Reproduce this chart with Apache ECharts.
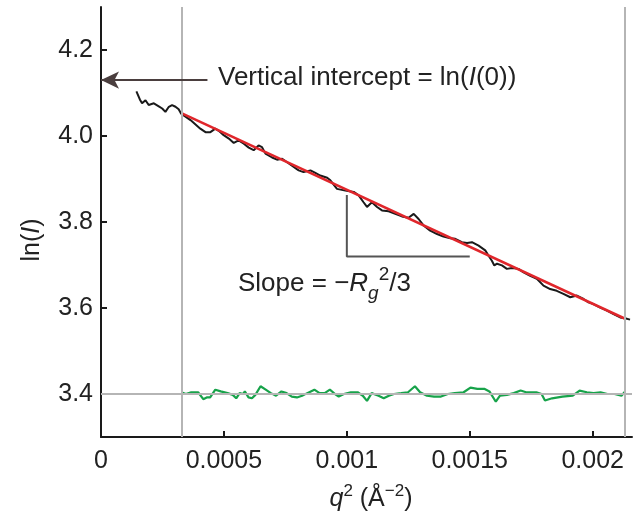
<!DOCTYPE html>
<html>
<head>
<meta charset="utf-8">
<script src="https://cdn.jsdelivr.net/npm/echarts@6/dist/echarts.min.js"></script>
<style>html,body{margin:0;padding:0;background:#fff}#c{width:633px;height:520px}</style>
</head>
<body>
<div id="c"></div>
<script>
// Guinier data: q^2 (Å^-2) vs ln(I)
const q2Data = [0.000144,0.000158,0.000167,0.000181,0.000194,0.000215,0.000235,0.000249,0.000262,0.000276,0.000289,0.000303,0.000316,0.000326,
0.000364,0.000404,0.000425,0.000445,0.000465,0.000479,0.000499,0.00052,0.00054,0.00056,0.000581,0.000601,0.000621,0.000641,0.000655,0.000669,0.000696,0.000716,0.000737,0.000757,0.000784,0.000804,0.000824,0.000852,0.000872,0.000892,0.00092,
0.000933,0.00096,0.000994,0.001028,0.001048,0.001068,0.001082,0.001102,0.001123,0.001143,0.00117,0.001197,0.001224,0.001251,0.001272,0.001292,0.001312,0.001339,0.001367,0.001393,0.001421,0.001441,0.001468,0.001489,0.001509,0.001536,0.001563,0.001576,0.00159,0.0016,0.001611,0.001631,0.001651,0.001672,0.001698,0.001719,0.001746,0.001773,0.0018,0.001827,0.001854,0.001881,0.001909,0.001936,0.001963,0.001983,0.002003,0.002031,0.002058,0.002085,0.002112,0.002132,0.002152];
const lnIData = [4.104,4.085,4.076,4.083,4.072,4.076,4.069,4.064,4.056,4.068,4.072,4.068,4.062,4.052,
4.037,4.017,4.009,4.009,4.017,4.012,4.002,3.994,3.984,3.990,3.982,3.973,3.967,3.978,3.974,3.959,3.950,3.945,3.947,3.939,3.928,3.920,3.916,3.920,3.914,3.908,3.903,
3.897,3.877,3.873,3.870,3.862,3.846,3.835,3.846,3.835,3.827,3.825,3.819,3.813,3.810,3.819,3.807,3.792,3.780,3.772,3.766,3.762,3.761,3.753,3.751,3.753,3.745,3.734,3.722,3.710,3.699,3.703,3.699,3.691,3.693,3.691,3.683,3.675,3.668,3.652,3.644,3.640,3.633,3.625,3.629,3.621,3.613,3.609,3.601,3.594,3.586,3.578,3.576,3.573];

// Linear fit endpoints
const fitQ2 = [0.000327, 0.002132];
const fitLnI = [4.053, 3.575];

// Residuals (offset around 3.4)
const resQ2 = [0.000327,0.000345,0.000367,0.000395,0.000416,0.00043,0.000444,0.000465,0.000487,0.000515,
0.000536,0.00055,0.000564,0.000578,0.000585,0.0006,0.000614,0.000628,0.000649,0.00067,
0.000691,0.000712,0.000734,0.000755,0.000776,0.000797,0.000818,0.000839,0.000868,0.000889,
0.00091,0.000931,0.000952,0.000967,0.000988,0.001016,0.001044,0.001065,0.001082,0.001101,
0.001129,0.00115,0.001171,0.001192,0.001221,0.001249,0.001277,0.001298,0.001326,0.001355,
0.001383,0.001411,0.001439,0.001475,0.001503,0.001531,0.001559,0.00158,0.001606,0.001623,
0.001651,0.001679,0.001707,0.001729,0.001771,0.001792,0.001806,0.001835,0.001877,0.001919,
0.001947,0.001976,0.002004,0.002032,0.00206,0.002089,0.002117,0.002132];
const resVal = [3.404,3.400,3.404,3.404,3.388,3.392,3.392,3.410,3.406,3.402,
3.398,3.390,3.402,3.400,3.406,3.392,3.390,3.398,3.418,3.410,
3.402,3.396,3.406,3.402,3.394,3.392,3.396,3.402,3.410,3.402,
3.402,3.410,3.400,3.394,3.400,3.404,3.404,3.396,3.384,3.402,
3.396,3.390,3.396,3.400,3.402,3.404,3.418,3.404,3.396,3.394,
3.394,3.400,3.402,3.404,3.415,3.412,3.412,3.406,3.382,3.396,
3.398,3.402,3.408,3.404,3.404,3.400,3.385,3.390,3.394,3.396,
3.408,3.404,3.402,3.404,3.400,3.400,3.396,3.406];

// Reference lines / annotations
const fitRangeQ2 = [0.000327, 0.002132];
const residualBase = 3.4;
const interceptLnI = 4.13;
const arrowTailQ2 = 0.000433;
const bracketQ2 = [0.001, 0.001, 0.0015];
const bracketLnI = [3.863, 3.72, 3.72];

// Axis range and ticks
const xRange = [0, 0.00216];
const yRange = [3.3, 4.3];
const xTicks = [0, 0.0005, 0.001, 0.0015, 0.002];
const xTickLabels = ['0', '0.0005', '0.001', '0.0015', '0.002'];
const yTicks = [3.4, 3.6, 3.8, 4.0, 4.2];
const yTickLabels = ['3.4', '3.6', '3.8', '4.0', '4.2'];

const FONT = "'Liberation Sans', Arial, Helvetica, sans-serif";
const zip = (a, b) => a.map((v, i) => [v, b[i]]);

const chart = echarts.init(document.getElementById('c'), null, {renderer: 'canvas'});
chart.setOption({
  animation: false,
  backgroundColor: '#fff',
  grid: {left: 101, top: 7, width: 531, height: 430},
  xAxis: {
    type: 'value', min: xRange[0], max: xRange[1],
    axisLine: {show: true, onZero: false, lineStyle: {color: '#1a1a1a', width: 2}},
    axisTick: {show: true, inside: false, length: -6, lineStyle: {color: '#1a1a1a', width: 2}, customValues: xTicks.slice(1)},
    axisLabel: {show: true, margin: 12, fontSize: 25, fontFamily: FONT, color: '#222',
      customValues: xTicks, formatter: v => xTickLabels[xTicks.findIndex(t => Math.abs(t - v) < 1e-9)] ?? ''},
    splitLine: {show: false}
  },
  yAxis: {
    type: 'value', min: yRange[0], max: yRange[1],
    axisLine: {show: true, onZero: false, lineStyle: {color: '#1a1a1a', width: 2}},
    axisTick: {show: true, inside: false, length: -6, lineStyle: {color: '#1a1a1a', width: 2}, customValues: yTicks},
    axisLabel: {show: true, margin: 8, fontSize: 25, fontFamily: FONT, color: '#222',
      customValues: yTicks, formatter: v => yTickLabels[yTicks.findIndex(t => Math.abs(t - v) < 1e-9)] ?? ''},
    splitLine: {show: false}
  },
  series: [
    {
      type: 'line', data: [], silent: true,
      markLine: {
        silent: true, symbol: 'none', label: {show: false},
        lineStyle: {color: '#b5b5b5', width: 2, type: 'solid'},
        data: [
          [{coord: [fitRangeQ2[0], yRange[0]]}, {coord: [fitRangeQ2[0], yRange[1]]}],
          [{coord: [fitRangeQ2[1], yRange[0]]}, {coord: [fitRangeQ2[1], yRange[1]]}],
          [{coord: [xRange[0], residualBase]}, {coord: [xRange[1], residualBase]}]
        ]
      },
      z: 1
    },
    {
      type: 'line', data: zip(q2Data, lnIData), showSymbol: false, symbol: 'none',
      lineStyle: {color: '#1a1a1a', width: 2}, z: 3
    },
    {
      type: 'line', data: zip(fitQ2, fitLnI), showSymbol: false, symbol: 'none',
      lineStyle: {color: '#e0262b', width: 2.5}, z: 4
    },
    {
      type: 'line', data: zip(resQ2, resVal), showSymbol: false, symbol: 'none',
      lineStyle: {color: '#17a34a', width: 2.2}, z: 3
    },
    {
      type: 'line', data: zip(bracketQ2, bracketLnI), showSymbol: false, symbol: 'none',
      lineStyle: {color: '#555', width: 2}, z: 2
    },
    {
      type: 'line', data: [], silent: true,
      markLine: {
        silent: true, symbol: ['none', 'arrow'], symbolSize: [13, 18], label: {show: false},
        lineStyle: {color: '#4a3e3e', width: 2, type: 'solid'},
        data: [[{coord: [arrowTailQ2, interceptLnI]}, {coord: [0, interceptLnI]}]]
      },
      z: 5
    }
  ],
  graphic: [
    {
      type: 'text', x: 218, y: 78,
      style: {
        text: 'Vertical intercept = ln({it|I}(0))',
        font: '26px ' + FONT, fill: '#222', textVerticalAlign: 'middle', textAlign: 'left',
        rich: {it: {fontStyle: 'italic', fontSize: 26, fontFamily: FONT, fill: '#222'}}
      }
    },
    {
      type: 'text', x: 238, y: 284,
      style: {
        text: 'Slope = \u2212{it|R}{sub|g}{sup|2}/3',
        font: '26px ' + FONT, fill: '#222', textVerticalAlign: 'middle', textAlign: 'left',
        lineHeight: 38,
        rich: {
          it: {fontStyle: 'italic', fontSize: 26, fontFamily: FONT, fill: '#222', lineHeight: 38},
          sub: {fontStyle: 'italic', fontSize: 19, fontFamily: FONT, fill: '#222', verticalAlign: 'bottom', lineHeight: 19},
          sup: {fontSize: 19, fontFamily: FONT, fill: '#222', verticalAlign: 'top', lineHeight: 19}
        }
      }
    },
    {
      type: 'text', x: 371, y: 499,
      style: {
        text: '{it|q}{sup|2} (Å{sup|\u22122})',
        font: '25px ' + FONT, fill: '#222', textVerticalAlign: 'middle', textAlign: 'center',
        lineHeight: 32,
        rich: {
          it: {fontStyle: 'italic', fontSize: 25, fontFamily: FONT, fill: '#222', lineHeight: 32},
          sup: {fontSize: 17, fontFamily: FONT, fill: '#222', verticalAlign: 'top', lineHeight: 17}
        }
      }
    },
    {
      type: 'text', x: 32, y: 240, rotation: Math.PI / 2,
      style: {
        text: 'ln({it|I})',
        font: '25px ' + FONT, fill: '#222', textVerticalAlign: 'middle', textAlign: 'center',
        rich: {it: {fontStyle: 'italic', fontSize: 25, fontFamily: FONT, fill: '#222'}}
      }
    }
  ]
});
</script>
</body>
</html>
